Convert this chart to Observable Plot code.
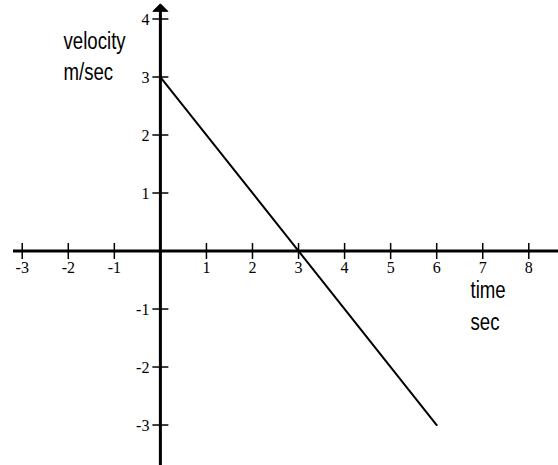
<!DOCTYPE html>
<html>
<head>
<meta charset="utf-8">
<script src="https://cdn.jsdelivr.net/npm/d3@7"></script>
<script src="https://cdn.jsdelivr.net/npm/@observablehq/plot@0.6"></script>
<style>
  body { margin: 0; background: #fff; }
  #chart svg { display: block; }
</style>
</head>
<body>
<div id="chart"></div>
<script>
// Data
const time = [0, 6];
const velocity = [3, -3];
const xTicks = [-3, -2, -1, 1, 2, 3, 4, 5, 6, 7, 8];
const yTicks = [-3, -2, -1, 1, 2, 3, 4];
const yLabel = ["velocity", "m/sec"];
const xLabel = ["time", "sec"];

const line = time.map((t, i) => ({t, v: velocity[i]}));

const W = 558, H = 465;
const xDomain = [-3.472, 8.645];
const yDomain = [-3.698, 4.319];

const vTick = {draw(ctx, size) { const h = Math.sqrt(size / Math.PI); ctx.moveTo(0, -h); ctx.lineTo(0, h); }};
const hTick = {draw(ctx, size) { const h = Math.sqrt(size / Math.PI); ctx.moveTo(-h, 0); ctx.lineTo(h, 0); }};
const arrowHead = {draw(ctx, size) { const h = Math.sqrt(size / Math.PI); ctx.moveTo(0, -h * 0.55); ctx.lineTo(h, h * 0.45); ctx.lineTo(-h, h * 0.45); ctx.closePath(); }};

const serif = "'Liberation Serif', 'Times New Roman', serif";
const sans = "'Liberation Sans', Arial, sans-serif";

const labelStyle = {frameAnchor: "top-left", textAnchor: "start", lineAnchor: "middle", fontSize: 23, fontFamily: sans, fill: "#000", className: "axis-label"};

const chart = Plot.plot({
  width: W,
  height: H,
  margin: 0,
  x: {domain: xDomain, axis: null},
  y: {domain: yDomain, axis: null},
  marks: [
    // x axis
    Plot.ruleY([0], {x1: -3.19, x2: xDomain[1], stroke: "#000", strokeWidth: 3}),
    // y axis
    Plot.ruleX([0], {y1: yDomain[0], y2: 4.15, stroke: "#000", strokeWidth: 3}),
    Plot.dot([0], {x: 0, y: 4.19, symbol: arrowHead, r: 7.5, fill: "#000", stroke: "#000", strokeWidth: 1, strokeLinejoin: "round"}),
    // ticks
    Plot.dot(xTicks, {x: d => d, y: 0, symbol: vTick, r: 8, stroke: "#000", strokeWidth: 1.5, fill: "none"}),
    Plot.dot(yTicks, {x: 0, y: d => d, symbol: hTick, r: 8, stroke: "#000", strokeWidth: 1.5, fill: "none"}),
    // tick labels
    Plot.text(xTicks, {x: d => d, y: 0, text: d => "-".repeat(d < 0) + Math.abs(d), dy: 17, fontSize: 16, fontFamily: serif, fill: "#000"}),
    Plot.text(yTicks, {x: 0, y: d => d, text: d => "-".repeat(d < 0) + Math.abs(d), dx: -11, dy: 1, textAnchor: "end", fontSize: 16, fontFamily: serif, fill: "#000"}),
    // velocity line
    Plot.line(line, {x: "t", y: "v", stroke: "#000", strokeWidth: 2}),
    // axis labels
    Plot.text([yLabel[0]], {...labelStyle, dx: 63, dy: 41}),
    Plot.text([yLabel[1]], {...labelStyle, dx: 63, dy: 72}),
    Plot.text([xLabel[0]], {...labelStyle, dx: 470, dy: 290}),
    Plot.text([xLabel[1]], {...labelStyle, dx: 470, dy: 322})
  ]
});
document.getElementById("chart").appendChild(chart);
// condense the axis-label glyphs horizontally (narrow sans look)
d3.select(chart).selectAll(".axis-label text").each(function() {
  const len = this.getComputedTextLength();
  d3.select(this).attr("textLength", len * 0.81).attr("lengthAdjust", "spacingAndGlyphs");
});
</script>
</body>
</html>
